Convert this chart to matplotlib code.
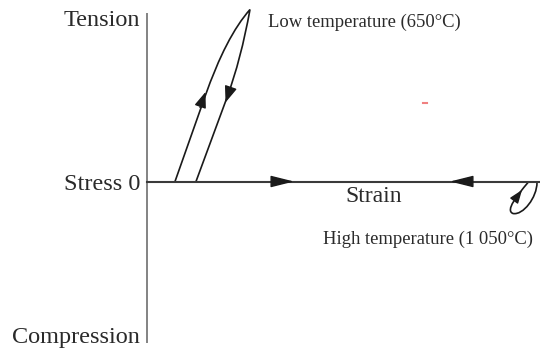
#!/usr/bin/env python3

import matplotlib
matplotlib.use("Agg")
import matplotlib.pyplot as plt
from matplotlib.path import Path
from matplotlib.patches import PathPatch

# schematic coordinates: x = strain (px from the stress axis), y = stress (px from zero)
STRESS_AXIS = (-161.5, 168.5)
STRAIN_END = 393

# low temperature (650 C) loop: line, curve up to the tip, curve back, line down
LOW_LOOP = [(28, 0), (58, 85), (79, 145), (103, 172), (94, 122), (80, 84), (49, 0)]
LOW_CODES = [Path.MOVETO, Path.LINETO, Path.CURVE3, Path.CURVE3,
             Path.CURVE3, Path.CURVE3, Path.LINETO]

# high temperature (1 050 C) loop, small hook under the strain axis
HIGH_LOOP = [(381, -1), (370, -14), (358, -29), (366, -32),
             (376, -34), (390, -16), (390, -1)]
HIGH_CODES = [Path.MOVETO] + [Path.CURVE4] * 6

# arrow heads: (tail, tip, head length pt, head half-width pt)
ARROWS = [
    ((53, 74), (58.5, 89.5), 9.5, 3.6),
    ((83, 92), (78.5, 79), 10.0, 3.8),
    ((127, 0), (147, 0), 14.4, 3.6),
    ((323, 0), (303, 0), 14.4, 3.6),
    ((368, -18), (375, -8.5), 8.0, 3.0),
]

LABELS = ["Tension", "Stress 0", "Compression"]
LABEL_Y = [155, -8, -161.5]


def main():
    fig = plt.figure(figsize=(5.4, 3.48), dpi=100)
    ax = fig.add_axes([0, 0, 1, 1])
    ax.set_xlim(-147, 393)
    ax.set_ylim(-166.5, 181.5)
    ax.axis("off")

    serif = ["Liberation Serif", "DejaVu Serif"]
    ink = "#1a1a1a"

    ax.plot([0, 0], STRESS_AXIS, color="#6e6e6e", lw=1.2, solid_capstyle="butt")
    ax.plot([0, STRAIN_END], [0, 0], color="#3a3a3a", lw=1.5)

    ax.add_patch(PathPatch(Path(LOW_LOOP, LOW_CODES), fill=False, ec=ink, lw=1.2))
    ax.add_patch(PathPatch(Path(HIGH_LOOP, HIGH_CODES), fill=False, ec=ink, lw=1.2))

    for tail, tip, hl, hw in ARROWS:
        ax.annotate(
            "", xy=tip, xytext=tail,
            arrowprops=dict(
                arrowstyle=f"-|>,head_length={hl / 10:.3f},head_width={hw / 10:.3f}",
                mutation_scale=10, color=ink, lw=1.0, shrinkA=0, shrinkB=0,
            ),
        )

    # small red speck in the source image
    ax.plot([276, 280], [78.5, 78.5], color="#f08080", lw=1.5)

    for text, y in zip(LABELS, LABEL_Y):
        ax.text(-7, y, text, ha="right", va="baseline", fontsize=17.5,
                family=serif, color="#2a2a2a")

    ax.text(198, -20.5, "Strain", ha="left", va="baseline", fontsize=17,
            family=serif, color="#2a2a2a")
    ax.text(121, 154.5, "Low temperature (650°C)", ha="left", va="baseline",
            fontsize=13.4, family=serif, color="#2a2a2a")
    ax.text(176, -62.5, "High temperature (1 050°C)", ha="left", va="baseline",
            fontsize=13.4, family=serif, color="#2a2a2a")

    fig.savefig("out.png", dpi=100)
    plt.close(fig)


if __name__ == "__main__":
    main()
